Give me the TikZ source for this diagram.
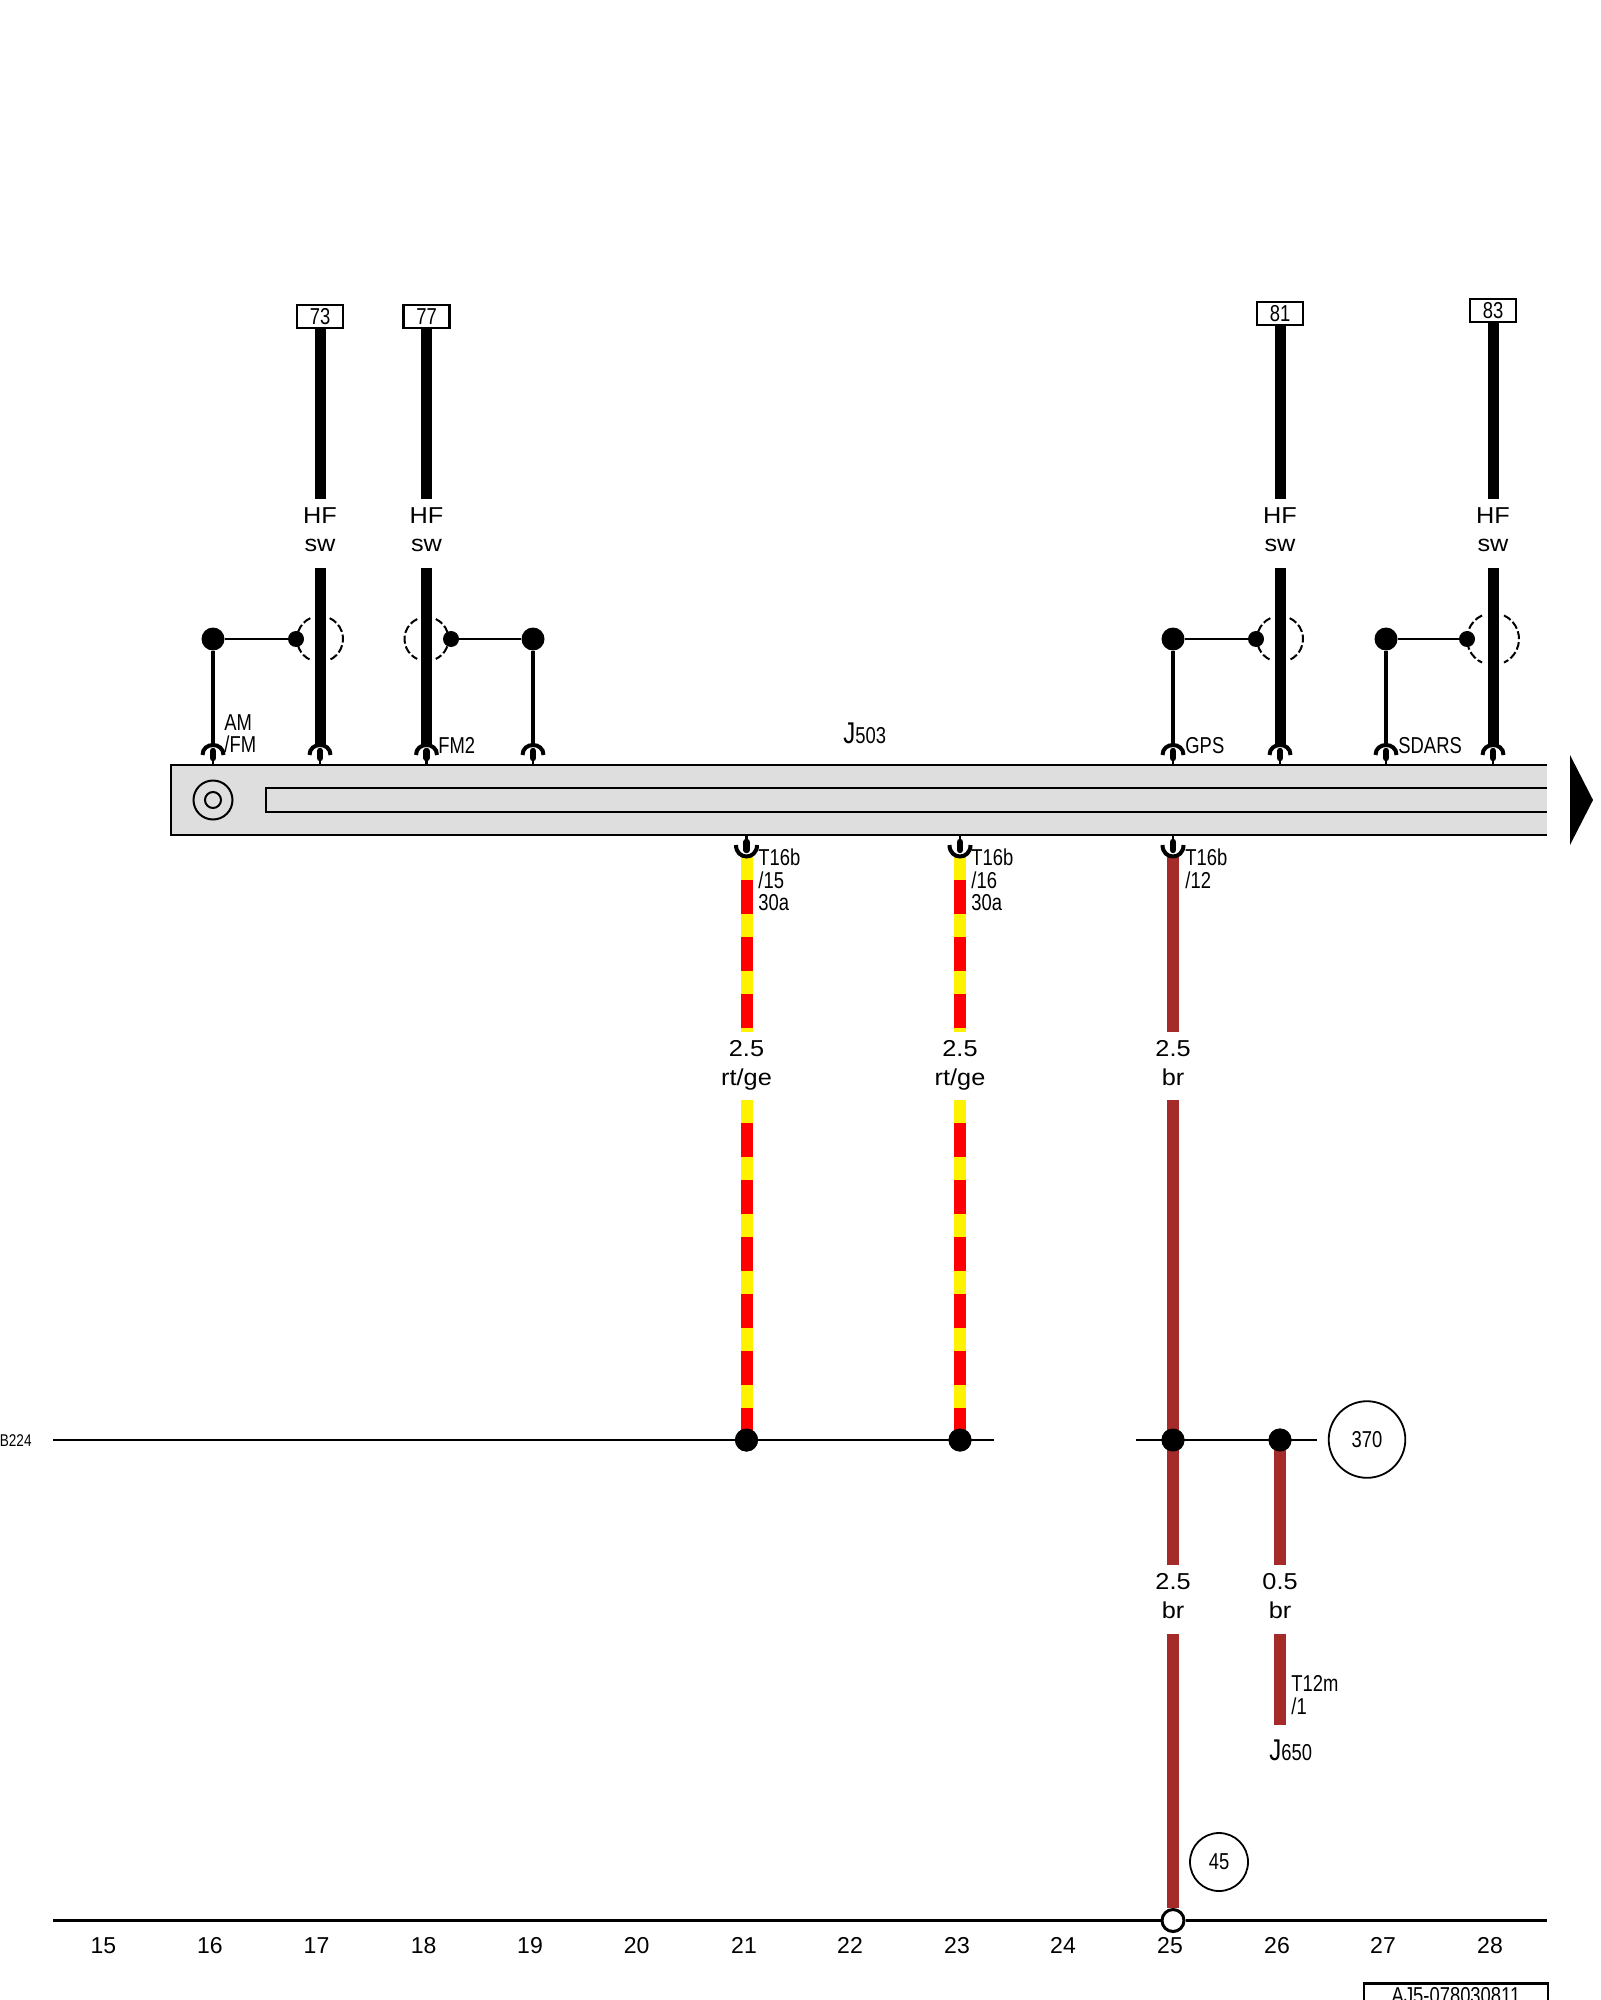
\documentclass[tikz,border=0pt]{standalone}
\usepackage{fontspec}
\setmainfont{Liberation Sans}
\newfontfamily\condfont[FakeStretch=0.8]{Liberation Sans}
\newfontfamily\widefont[FakeStretch=1.1]{Liberation Sans}
\definecolor{brn}{HTML}{A52A2A}
\definecolor{barfill}{HTML}{DEDEDE}
\tikzset{
  lbl/.style={inner sep=0pt,anchor=base,font=\widefont\fontsize{11.5}{11.5}\selectfont},
  num/.style={inner sep=0pt,anchor=base,font=\fontsize{11.5}{11.5}\selectfont},
  small/.style={inner sep=0pt,anchor=north west,align=left,font=\condfont\fontsize{11.5}{11.3}\selectfont},
  jlabel/.style={inner sep=0pt,anchor=base west,font=\condfont\fontsize{11.5}{11.5}\selectfont},
  tagbox/.style={draw,line width=1.1pt,inner sep=0pt,minimum width=23pt,minimum height=11.5pt,fill=white,font=\condfont\fontsize{11.5}{11.5}\selectfont},
  ring/.style={draw,circle,line width=.9pt,inner sep=0pt,font=\condfont\fontsize{11.5}{11.5}\selectfont},
  bigdot/.style={circle,fill=black,inner sep=0pt,minimum size=11.5pt},
  smalldot/.style={circle,fill=black,inner sep=0pt,minimum size=8pt},
  hollow/.style={circle,draw,fill=white,line width=1.5pt,inner sep=0pt,minimum size=11pt},
  hfwire/.style={line width=5.5pt,black},
  brwire/.style={line width=6pt,brn},
  ywire/.style={line width=6pt,yellow},
  rwire/.style={line width=6pt,red,dash pattern=on 17pt off 11.5pt,dash phase=17pt},
  thinwire/.style={line width=1.8pt,black},
  hair/.style={line width=1.3pt,black},
  shield/.style={line width=1pt,dash pattern=on 4pt off 1.4pt},
  cup/.style={line width=2pt,black},
  blob/.style={line width=3.2pt,line cap=round,black},
  edge/.style={line width=1pt,black}
}
% connector on top of the bar at x
\newcommand{\pinup}[2]{%
  \coordinate (#1b) at (#2,765);
  \draw[cup] (#2-10.5,755) .. controls (#2-10.5,741.7) and (#2+10.5,741.7) .. (#2+10.5,755);
  \draw[blob] (#2,751) -- (#2,758);
  \draw[hair] (#2,758) -- (#1b);
}
% connector beneath the bar at x
\newcommand{\pindown}[2]{%
  \coordinate (#1b) at (#2,834);
  \draw[hair] (#1b) -- (#2,842);
  \draw[blob] (#2,842) -- (#2,850);
  \draw[cup] (#2-10.5,845) .. controls (#2-10.5,860.3) and (#2+10.5,860.3) .. (#2+10.5,845);
}
\begin{document}
\begin{tikzpicture}[x=0.5pt,y=-0.5pt]
\useasboundingbox (0,0) rectangle (1600,2000);
% main unit bar
\node[fill=barfill,inner sep=0pt,minimum width=688pt,minimum height=34.75pt] (bar) at (859,799.75) {};
\draw[edge] (bar.north east) -- (bar.north west) -- (bar.south west) -- (bar.south east);
\coordinate (slotA) at (1547,788);
\coordinate (slotB) at (266,788);
\coordinate (slotC) at (266,811.5);
\coordinate (slotD) at (1547,811.5);
\draw[edge] (slotA) -- (slotB) -- (slotC) -- (slotD);
\node[draw,circle,line width=1pt,inner sep=0pt,minimum size=19.5pt] (ringout) at (213,800) {};
\node[draw,circle,line width=1pt,inner sep=0pt,minimum size=8pt] (ringin) at (213,800) {};
\fill[black] (1570,755) -- (1593,800) -- (1570,845) -- cycle;
\node[jlabel] (j503) at (843,743) {{\fontsize{15}{15}\selectfont J}503};

% HF wires: x, tag centre y, text, small-dot x, big-dot x, shield radius
\foreach \x/\ty/\t/\dx/\bx/\r in {320/316.5/73/296/213/11.5, 426.5/316.5/77/451/533/11, 1280/313.5/81/1256/1173/11.5, 1493/310.5/83/1467/1386/13}{
  \node[tagbox] (tag\t) at (\x,\ty) {\t};
  \coordinate (up\t) at (\x,499);
  \draw[hfwire] (tag\t.south) -- (up\t);
  \node[lbl] (hf\t) at (\x,523) {HF};
  \node[lbl] (sw\t) at (\x,551) {sw};
  \coordinate (lo\t) at (\x,567.5);
  \coordinate (mid\t) at (\x,639);
  \coordinate (wp\t) at (\x,745);
  \coordinate (tp\t) at (\bx,745);
  \draw[shield,shift={(mid\t)}] (65:\r pt) arc[start angle=65,end angle=-65,radius=\r pt];
  \draw[shield,shift={(mid\t)}] (115:\r pt) arc[start angle=115,end angle=245,radius=\r pt];
  \draw[hfwire] (lo\t) -- (wp\t);
  \pinup{wp\t}{\x}
  \pinup{tp\t}{\bx}
  \node[bigdot] (big\t) at (\bx,639) {};
  \node[smalldot] (sd\t) at (\dx,639) {};
  \draw[hair] (big\t) -- (sd\t);
  \draw[thinwire] (big\t) -- (tp\t);
}

\node[small] (tam) at (224,714.5) {AM\\[-.2pt]/FM};
\node[small] (tfm) at (438,737) {FM2};
\node[small] (tgps) at (1185,737) {GPS};
\node[small] (tsd) at (1398,737) {SDARS};

% junction dots on the bus
\node[bigdot] (ja) at (746.5,1440) {};
\node[bigdot] (jb) at (960,1440) {};
\node[bigdot] (jc) at (1173,1440) {};
\node[bigdot] (jd) at (1280,1440) {};

% striped wires
\foreach \n/\x/\j in {15/746.5/ja,16/960/jb}{
  \coordinate (wa\n) at (\x,857);
  \coordinate (ws\n) at (\x,1032);
  \coordinate (wt\n) at (\x,1100);
  \draw[ywire] (wa\n) -- (ws\n);
  \draw[rwire] (wa\n) -- (ws\n);
  \draw[ywire] (wt\n) -- (\j.center);
  \draw[rwire] (wt\n) -- (\j.center);
  \node[lbl] (g\n) at (\x,1056) {2.5};
  \node[lbl] (c\n) at (\x,1085) {rt/ge};
  \pindown{dp\n}{\x}
}
\node[small] (t15) at (758,848.5) {T16b\\/15\\30a};
\node[small] (t16) at (971,848.5) {T16b\\/16\\30a};
\node[small] (t12) at (1185,848.5) {T16b\\/12};

% brown wire, column 25
\coordinate (b0) at (1173,857);
\coordinate (b1) at (1173,1032);
\coordinate (b2) at (1173,1100);
\coordinate (b3) at (1173,1565);
\coordinate (b4) at (1173,1634);
\node[hollow] (open) at (1173,1920.5) {};
\draw[brwire] (b0) -- (b1);
\draw[brwire] (b2) -- (jc.center);
\draw[brwire] (jc.center) -- (b3);
\draw[brwire] (b4) -- (open.north);
\pindown{dp12}{1173}
\node[lbl] (g12) at (1173,1056) {2.5};
\node[lbl] (c12) at (1173,1085) {br};
\node[lbl] (g25) at (1173,1589.5) {2.5};
\node[lbl] (c25) at (1173,1618) {br};
% column 26
\coordinate (e1) at (1280,1565);
\coordinate (e2) at (1280,1634);
\coordinate (e3) at (1280,1725);
\draw[brwire] (jd.center) -- (e1);
\draw[brwire] (e2) -- (e3);
\node[lbl] (g26) at (1280,1589.5) {0.5};
\node[lbl] (c26) at (1280,1618) {br};
\node[small] (t12m) at (1291,1675.5) {T12m\\/1};
\node[jlabel] (j650) at (1269,1760) {{\fontsize{15}{15}\selectfont J}650};

% horizontal buses
\coordinate (busL) at (53,1440);
\coordinate (busM) at (994,1440);
\coordinate (busN) at (1136,1440);
\coordinate (busR) at (1317,1440);
\draw[line width=1.1pt] (busL) -- (busM);
\draw[line width=1.4pt] (busN) -- (busR);
\node[bigdot] at (ja) {};
\node[bigdot] at (jb) {};
\node[bigdot] at (jc) {};
\node[bigdot] at (jd) {};
\node[inner sep=0pt,anchor=base east,font=\condfont\fontsize{8.5}{8.5}\selectfont] (b224) at (32,1446.5) {B224};

\node[ring,minimum size=38.3pt] (r370) at (1367,1439.5) {370};
\node[ring,minimum size=29pt] (r45) at (1219,1862) {45};

% footer
\coordinate (footL) at (53,1920.5);
\coordinate (footR) at (1547,1920.5);
\draw[line width=1.1pt] (footL) -- (open.west);
\draw[line width=1.1pt] (open.east) -- (footR);
\foreach \x/\n in {103.5/15,210/16,316.5/17,423.6/18,530/19,636.7/20,744/21,850/22,957/23,1063/24,1170/25,1277/26,1383/27,1490/28}{
  \node[num] (n\n) at (\x,1953) {\n};
}
\node[draw,line width=1.1pt,inner sep=0pt,minimum width=92pt,minimum height=12.5pt,font=\condfont\fontsize{11.5}{11.5}\selectfont] (ref) at (1456,1996) {AJ5-078030811};
\end{tikzpicture}
\end{document}
